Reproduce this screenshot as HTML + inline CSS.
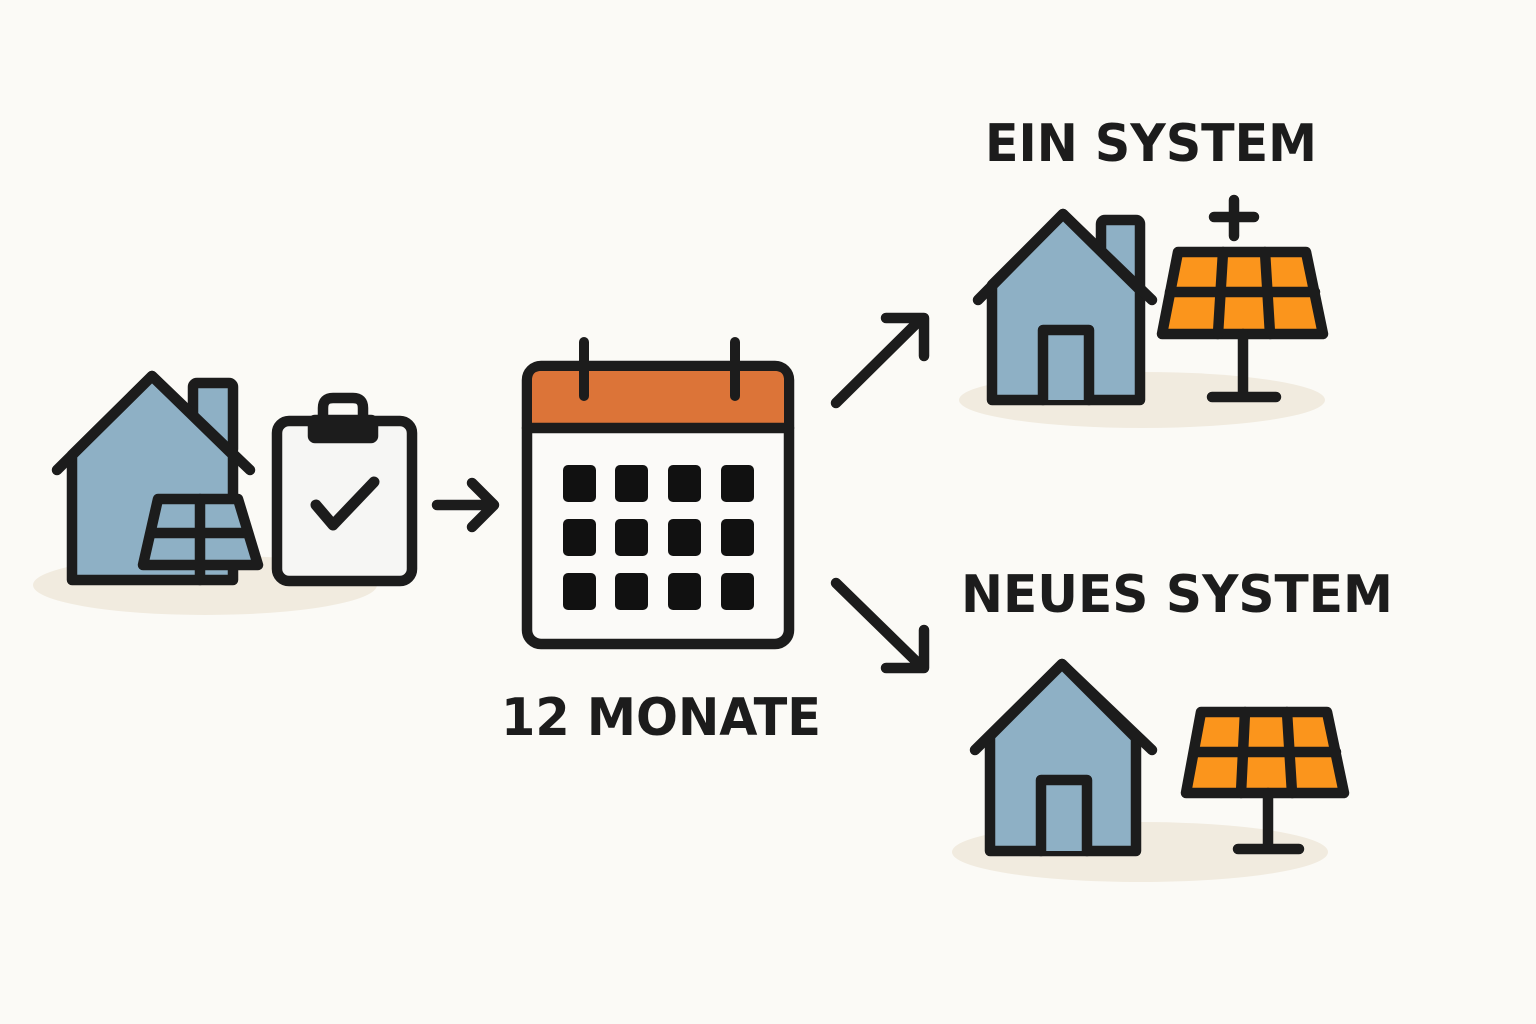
<!DOCTYPE html>
<html><head><meta charset="utf-8"><style>
html,body{margin:0;padding:0;background:#fbfaf6;}
svg{display:block}
text{font-family:"DejaVu Sans","Liberation Sans",sans-serif;font-weight:bold;fill:#1c1c1c}
</style></head><body>
<svg width="1536" height="1024" viewBox="0 0 1536 1024" xmlns="http://www.w3.org/2000/svg">
<rect width="1536" height="1024" fill="#fbfaf6"/>
<g fill="#f1ebdf">
<ellipse cx="205" cy="585" rx="172" ry="30"/>
<ellipse cx="1142" cy="400" rx="183" ry="28"/>
<ellipse cx="1140" cy="852" rx="188" ry="30"/>
</g>
<g stroke="#1c1c1c" stroke-width="10.5" stroke-linejoin="round" stroke-linecap="round">
<rect x="193" y="383" width="40" height="70" fill="#8eb0c5" rx="4"/>
<path d="M72 455 L152 376 L233 455 L233 580 L72 580 Z" fill="#8eb0c5"/>
<path d="M57 470 L152 376 L250 470" fill="none"/>
<path d="M158 499 L238 499 L258 565 L143 565 Z" fill="#8eb0c5"/>
<path d="M152 533 L248 533 M200 499 L200 580" fill="none"/>
<rect x="277" y="421" width="135" height="160" rx="12" fill="#f6f6f4"/>
<path d="M323 420 L323 408 Q323 398 333 398 L353 398 Q363 398 363 408 L363 420" fill="none"/>
<rect x="313" y="420" width="60" height="18" fill="#1c1c1c" rx="2"/>
<path d="M316 505 L333 525 L374 482" fill="none" stroke-width="11"/>
<path d="M437 505 L493 505 M472 483 L494 505 L472 527" fill="none"/>
<rect x="527" y="366" width="262" height="278" rx="14" fill="#fbfaf8"/>
<path d="M532 428 L532 380 Q532 371 541 371 L775 371 Q784 371 784 380 L784 428 Z" fill="#dc7438" stroke="none"/>
<path d="M527 428 L789 428" fill="none"/>
<path d="M584 342 L584 396 M735 342 L735 396" fill="none" stroke-width="10"/>
<path d="M836 403 L922 318 M886 318 L924 318 L924 356" fill="none"/>
<path d="M836 583 L922 667 M924 630 L924 668 L886 668" fill="none"/>
<rect x="1101" y="220" width="39" height="70" fill="#8eb0c5" rx="4"/>
<path d="M992 285 L1063 214 L1140 290 L1140 400 L992 400 Z" fill="#8eb0c5"/>
<path d="M978 300 L1063 214 L1152 300" fill="none"/>
<path d="M1043 400 L1043 330 L1089 330 L1089 400" fill="#8eb0c5"/>
<path d="M1178 252 L1306 252 L1323 334 L1162 334 Z" fill="#fb951c"/>
<path d="M1170 292 L1315 292 M1223 252 L1218 334 M1265 252 L1270 334" fill="none"/>
<path d="M1243 334 L1243 397 M1212 397 L1276 397 M1234 200 L1234 236 M1214 217 L1254 217" fill="none"/>
<path d="M990 736 L1062 664 L1136 738 L1136 851 L990 851 Z" fill="#8eb0c5"/>
<path d="M975 750 L1062 664 L1152 750" fill="none"/>
<path d="M1041 851 L1041 780 L1087 780 L1087 851" fill="#8eb0c5"/>
<path d="M1201 712 L1327 712 L1344 793 L1186 793 Z" fill="#fb951c"/>
<path d="M1194 752 L1336 752 M1245 712 L1241 793 M1287 712 L1292 793" fill="none"/>
<path d="M1268 793 L1268 849 M1238 849 L1299 849" fill="none"/>
</g>
<g fill="#111">
<rect x="563" y="465" width="33" height="37" rx="5"/><rect x="615" y="465" width="33" height="37" rx="5"/><rect x="668" y="465" width="33" height="37" rx="5"/><rect x="721" y="465" width="33" height="37" rx="5"/>
<rect x="563" y="519" width="33" height="37" rx="5"/><rect x="615" y="519" width="33" height="37" rx="5"/><rect x="668" y="519" width="33" height="37" rx="5"/><rect x="721" y="519" width="33" height="37" rx="5"/>
<rect x="563" y="573" width="33" height="37" rx="5"/><rect x="615" y="573" width="33" height="37" rx="5"/><rect x="668" y="573" width="33" height="37" rx="5"/><rect x="721" y="573" width="33" height="37" rx="5"/>
</g>
<text x="661" y="735" font-size="52" text-anchor="middle" textLength="320" lengthAdjust="spacingAndGlyphs">12 MONATE</text>
<text x="1151" y="161" font-size="52" text-anchor="middle" textLength="332" lengthAdjust="spacingAndGlyphs">EIN SYSTEM</text>
<text x="1177" y="612" font-size="52" text-anchor="middle" textLength="432" lengthAdjust="spacingAndGlyphs">NEUES SYSTEM</text>
</svg>
</body></html>
